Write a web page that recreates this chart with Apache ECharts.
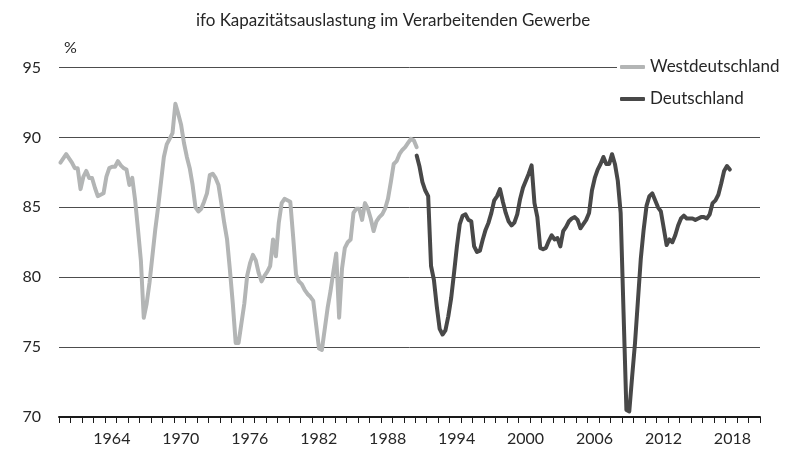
<!DOCTYPE html>
<html>
<head>
<meta charset="utf-8">
<script src="https://cdn.jsdelivr.net/npm/echarts@6/dist/echarts.min.js"></script>
<style>
  html, body { margin: 0; padding: 0; background: #fff; }
  #chart { width: 786px; height: 450px; }
</style>
</head>
<body>
<div id="chart"></div>
<script>
  // Quartalswerte, Westdeutschland ab 1960 Q1 bis 1991 Q1
  var westStart = 1960;
  var westValues = [
    88.2, 88.5, 88.8, 88.5,  88.2, 87.8, 87.8, 86.3,  87.2, 87.6, 87.1, 87.1,
    86.4, 85.8, 85.9, 86.0,  87.2, 87.8, 87.9, 87.9,  88.3, 88.0, 87.8, 87.7,
    86.6, 87.1, 85.5, 83.4,  81.2, 77.1, 78.1, 79.6,  81.5, 83.4, 85.0, 86.8,
    88.6, 89.5, 89.9, 90.3,  92.4, 91.7, 90.9, 89.6,  88.6, 87.8, 86.6, 85.0,
    84.7, 84.9, 85.4, 86.0,  87.3, 87.4, 87.1, 86.6,  85.3, 83.9, 82.7, 80.5,
    78.1, 75.3, 75.3, 76.7,  78.1, 80.1, 81.0, 81.6,  81.2, 80.3, 79.7, 80.1,
    80.4, 80.8, 82.7, 81.5,  83.9, 85.3, 85.6, 85.5,  85.4, 82.9, 80.2, 79.7,
    79.5, 79.1, 78.8, 78.6,  78.3, 76.6, 74.9, 74.8,  76.3, 77.8, 79.0, 80.4,
    81.7, 77.1, 80.6, 82.1,  82.5, 82.7, 84.6, 84.9,  84.9, 84.1, 85.3, 84.9,
    84.2, 83.3, 84.0, 84.3,  84.5, 84.9, 85.6, 86.8,  88.1, 88.3, 88.8, 89.1,
    89.3, 89.6, 89.9, 89.8,  89.3
  ];

  // Quartalswerte, Deutschland ab 1991 Q1 bis 2018 Q2
  var deStart = 1991;
  var deValues = [
    88.7, 87.9, 86.8, 86.2,  85.8, 80.8, 79.8, 77.9,  76.3, 75.9, 76.2, 77.2,
    78.5, 80.3, 82.2, 83.8,  84.4, 84.5, 84.1, 84.0,  82.2, 81.8, 81.9, 82.7,
    83.4, 83.9, 84.6, 85.5,  85.8, 86.3, 85.4, 84.6,  84.0, 83.7, 83.9, 84.5,
    85.6, 86.4, 86.9, 87.4,  88.0, 85.3, 84.3, 82.1,  82.0, 82.1, 82.6, 83.0,
    82.7, 82.8, 82.2, 83.3,  83.6, 84.0, 84.2, 84.3,  84.1, 83.5, 83.8, 84.1,
    84.6, 86.2, 87.1, 87.7,  88.1, 88.6, 88.1, 88.1,  88.8, 88.1, 86.9, 84.6,
    77.5, 70.5, 70.4, 72.9,  75.3, 78.3, 81.3, 83.4,  85.1, 85.8, 86.0, 85.5,
    85.0, 84.7, 83.5, 82.3,  82.7, 82.5, 83.0, 83.7,  84.2, 84.4, 84.2, 84.2,
    84.2, 84.1, 84.2, 84.3,  84.3, 84.2, 84.5, 85.3,  85.5, 85.9, 86.7, 87.6,
    87.95, 87.7
  ];

  var yearTicks = [];
  for (var y = 1960; y <= 2021; y++) yearTicks.push(y);
  var yearLabels = [1964, 1970, 1976, 1982, 1988, 1994, 2000, 2006, 2012, 2018];

  function toPoints(start, values) {
    return values.map(function (v, i) {
      return [start + (i + 0.5) / 4, v];
    });
  }

  var font = 'Lato';
  var textColor = '#262626';
  var chart = echarts.init(document.getElementById('chart'));

  var option = {
    backgroundColor: '#fff',
    animation: false,
    title: {
      text: 'ifo Kapazitätsauslastung im Verarbeitenden Gewerbe',
      left: 'center',
      top: 12,
      padding: 0,
      textStyle: { fontFamily: font, fontSize: 17, fontWeight: 'normal', color: textColor }
    },
    legend: {
      orient: 'vertical',
      left: 617,
      top: 58,
      padding: [0, 0, 0, 3],
      backgroundColor: '#fff',
      itemWidth: 25,
      itemHeight: 4,
      itemGap: 14,
      icon: 'roundRect',
      textStyle: { fontFamily: font, fontSize: 17, color: textColor, lineHeight: 18 },
      data: ['Westdeutschland', 'Deutschland']
    },
    grid: {
      left: 59,
      right: 26,
      top: 67.5,
      bottom: 33
    },
    xAxis: {
      type: 'value',
      min: 1960,
      max: 2021,
      splitLine: { show: false },
      axisLine: { lineStyle: { color: '#1a1a1a', width: 2 } },
      axisTick: {
        customValues: yearTicks,
        length: 6,
        lineStyle: { color: '#1a1a1a', width: 1 }
      },
      axisLabel: {
        customValues: yearLabels.map(function (y) { return y + 0.6; }),
        formatter: function (v) { return String(Math.floor(v)); },
        margin: 14,
        fontFamily: font,
        fontSize: 16,
        color: textColor
      }
    },
    yAxis: {
      type: 'value',
      min: 70,
      max: 95,
      interval: 5,
      name: '%',
      nameLocation: 'end',
      nameGap: 12,
      nameTextStyle: { fontFamily: font, fontSize: 16, color: textColor, align: 'left', padding: [0, 0, 0, 5] },
      axisLine: { show: false },
      axisTick: { show: false },
      axisLabel: { margin: 18, fontFamily: font, fontSize: 16, color: textColor },
      splitLine: { lineStyle: { color: '#4d4d4d', width: 1 } }
    },
    series: [
      {
        name: 'Westdeutschland',
        type: 'line',
        data: toPoints(westStart, westValues),
        showSymbol: false,
        symbol: 'none',
        color: '#b3b5b5',
        lineStyle: { color: '#b3b5b5', width: 4, cap: 'round', join: 'round' }
      },
      {
        name: 'Deutschland',
        type: 'line',
        data: toPoints(deStart, deValues),
        showSymbol: false,
        symbol: 'none',
        color: '#484848',
        lineStyle: { color: '#484848', width: 4, cap: 'round', join: 'round' }
      }
    ]
  };

  chart.setOption(option);
</script>
</body>
</html>
